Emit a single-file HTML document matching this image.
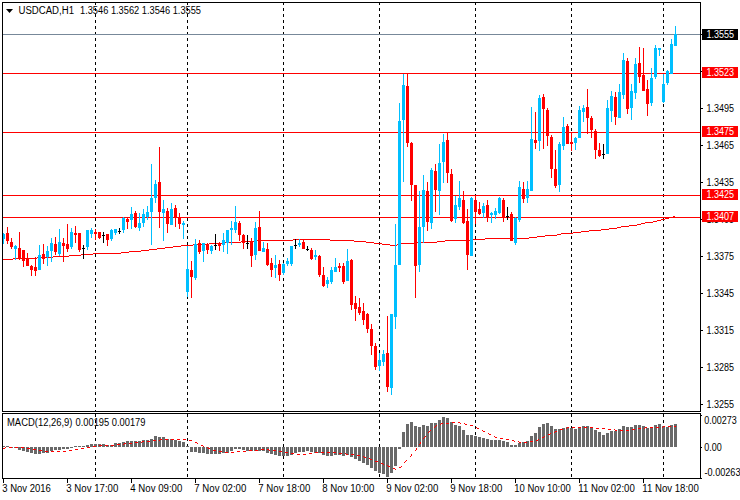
<!DOCTYPE html><html><head><meta charset="utf-8"><title>USDCAD H1</title>
<style>html,body{margin:0;padding:0;background:#fff}body{width:740px;height:500px;overflow:hidden;position:relative;font-family:"Liberation Sans",sans-serif}
svg{position:absolute;left:0;top:0}text{font-family:"Liberation Sans",sans-serif;font-size:10px;letter-spacing:-0.4px;fill:#000}</style></head><body>
<svg width="740" height="500" viewBox="0 0 740 500" shape-rendering="crispEdges">
<rect x="0" y="0" width="740" height="500" fill="#ffffff"/>
<line x1="95.5" y1="2" x2="95.5" y2="411" stroke="#000" stroke-width="1" stroke-dasharray="3,3"/>
<line x1="95.5" y1="413" x2="95.5" y2="479" stroke="#000" stroke-width="1" stroke-dasharray="3,3" stroke-dashoffset="-1"/>
<line x1="187.5" y1="2" x2="187.5" y2="411" stroke="#000" stroke-width="1" stroke-dasharray="3,3"/>
<line x1="187.5" y1="413" x2="187.5" y2="479" stroke="#000" stroke-width="1" stroke-dasharray="3,3" stroke-dashoffset="-1"/>
<line x1="283.5" y1="2" x2="283.5" y2="411" stroke="#000" stroke-width="1" stroke-dasharray="3,3"/>
<line x1="283.5" y1="413" x2="283.5" y2="479" stroke="#000" stroke-width="1" stroke-dasharray="3,3" stroke-dashoffset="-1"/>
<line x1="379.5" y1="2" x2="379.5" y2="411" stroke="#000" stroke-width="1" stroke-dasharray="3,3"/>
<line x1="379.5" y1="413" x2="379.5" y2="479" stroke="#000" stroke-width="1" stroke-dasharray="3,3" stroke-dashoffset="-1"/>
<line x1="475.5" y1="2" x2="475.5" y2="411" stroke="#000" stroke-width="1" stroke-dasharray="3,3"/>
<line x1="475.5" y1="413" x2="475.5" y2="479" stroke="#000" stroke-width="1" stroke-dasharray="3,3" stroke-dashoffset="-1"/>
<line x1="571.5" y1="2" x2="571.5" y2="411" stroke="#000" stroke-width="1" stroke-dasharray="3,3"/>
<line x1="571.5" y1="413" x2="571.5" y2="479" stroke="#000" stroke-width="1" stroke-dasharray="3,3" stroke-dashoffset="-1"/>
<line x1="663.5" y1="2" x2="663.5" y2="411" stroke="#000" stroke-width="1" stroke-dasharray="3,3"/>
<line x1="663.5" y1="413" x2="663.5" y2="479" stroke="#000" stroke-width="1" stroke-dasharray="3,3" stroke-dashoffset="-1"/>
<rect x="3" y="34" width="698" height="1" fill="#778899"/>
<rect x="3" y="73" width="698" height="1" fill="#ff0000"/>
<rect x="3" y="132" width="698" height="1" fill="#ff0000"/>
<rect x="3" y="195" width="698" height="1" fill="#ff0000"/>
<rect x="3" y="217" width="698" height="1" fill="#ff0000"/>
<rect x="3" y="259" width="10" height="1" fill="#ff0000"/>
<rect x="13" y="258" width="24" height="1" fill="#ff0000"/>
<rect x="37" y="257" width="16" height="1" fill="#ff0000"/>
<rect x="53" y="256" width="16" height="1" fill="#ff0000"/>
<rect x="69" y="255" width="12" height="1" fill="#ff0000"/>
<rect x="81" y="254" width="12" height="1" fill="#ff0000"/>
<rect x="93" y="253" width="28" height="1" fill="#ff0000"/>
<rect x="121" y="252" width="8" height="1" fill="#ff0000"/>
<rect x="129" y="251" width="12" height="1" fill="#ff0000"/>
<rect x="141" y="250" width="8" height="1" fill="#ff0000"/>
<rect x="149" y="249" width="8" height="1" fill="#ff0000"/>
<rect x="157" y="248" width="8" height="1" fill="#ff0000"/>
<rect x="165" y="247" width="8" height="1" fill="#ff0000"/>
<rect x="173" y="246" width="8" height="1" fill="#ff0000"/>
<rect x="181" y="245" width="12" height="1" fill="#ff0000"/>
<rect x="193" y="244" width="16" height="1" fill="#ff0000"/>
<rect x="209" y="243" width="16" height="1" fill="#ff0000"/>
<rect x="225" y="242" width="16" height="1" fill="#ff0000"/>
<rect x="241" y="241" width="16" height="1" fill="#ff0000"/>
<rect x="257" y="240" width="36" height="1" fill="#ff0000"/>
<rect x="293" y="239" width="37" height="1" fill="#ff0000"/>
<rect x="330" y="240" width="24" height="1" fill="#ff0000"/>
<rect x="354" y="241" width="12" height="1" fill="#ff0000"/>
<rect x="366" y="242" width="8" height="1" fill="#ff0000"/>
<rect x="374" y="243" width="8" height="1" fill="#ff0000"/>
<rect x="382" y="244" width="8" height="1" fill="#ff0000"/>
<rect x="390" y="245" width="7" height="1" fill="#ff0000"/>
<rect x="397" y="244" width="4" height="1" fill="#ff0000"/>
<rect x="401" y="243" width="16" height="1" fill="#ff0000"/>
<rect x="417" y="242" width="20" height="1" fill="#ff0000"/>
<rect x="437" y="241" width="8" height="1" fill="#ff0000"/>
<rect x="445" y="240" width="28" height="1" fill="#ff0000"/>
<rect x="473" y="239" width="12" height="1" fill="#ff0000"/>
<rect x="485" y="238" width="44" height="1" fill="#ff0000"/>
<rect x="529" y="237" width="8" height="1" fill="#ff0000"/>
<rect x="537" y="236" width="8" height="1" fill="#ff0000"/>
<rect x="545" y="235" width="12" height="1" fill="#ff0000"/>
<rect x="557" y="234" width="4" height="1" fill="#ff0000"/>
<rect x="561" y="233" width="12" height="1" fill="#ff0000"/>
<rect x="573" y="232" width="8" height="1" fill="#ff0000"/>
<rect x="581" y="231" width="8" height="1" fill="#ff0000"/>
<rect x="589" y="230" width="12" height="1" fill="#ff0000"/>
<rect x="601" y="229" width="8" height="1" fill="#ff0000"/>
<rect x="609" y="228" width="8" height="1" fill="#ff0000"/>
<rect x="617" y="227" width="4" height="1" fill="#ff0000"/>
<rect x="621" y="226" width="8" height="1" fill="#ff0000"/>
<rect x="629" y="225" width="8" height="1" fill="#ff0000"/>
<rect x="637" y="224" width="4" height="1" fill="#ff0000"/>
<rect x="641" y="223" width="4" height="1" fill="#ff0000"/>
<rect x="645" y="222" width="8" height="1" fill="#ff0000"/>
<rect x="653" y="221" width="4" height="1" fill="#ff0000"/>
<rect x="657" y="220" width="4" height="1" fill="#ff0000"/>
<rect x="661" y="219" width="4" height="1" fill="#ff0000"/>
<rect x="665" y="218" width="4" height="1" fill="#ff0000"/>
<rect x="669" y="217" width="4" height="1" fill="#ff0000"/>
<rect x="673" y="216" width="2" height="1" fill="#ff0000"/>
<rect x="3" y="233" width="1" height="11" fill="#00bfff"/>
<rect x="2" y="234" width="3" height="5" fill="#00bfff"/>
<rect x="7" y="227" width="1" height="17" fill="#ff0000"/>
<rect x="6" y="233" width="3" height="8" fill="#ff0000"/>
<rect x="11" y="238" width="1" height="11" fill="#ff0000"/>
<rect x="10" y="242" width="3" height="5" fill="#ff0000"/>
<rect x="15" y="245" width="1" height="15" fill="#00bfff"/>
<rect x="14" y="246" width="3" height="3" fill="#00bfff"/>
<rect x="19" y="232" width="1" height="28" fill="#ff0000"/>
<rect x="18" y="248" width="3" height="11" fill="#ff0000"/>
<rect x="23" y="250" width="1" height="17" fill="#ff0000"/>
<rect x="22" y="250" width="3" height="11" fill="#ff0000"/>
<rect x="27" y="253" width="1" height="13" fill="#ff0000"/>
<rect x="26" y="259" width="3" height="7" fill="#ff0000"/>
<rect x="31" y="265" width="1" height="11" fill="#ff0000"/>
<rect x="30" y="266" width="3" height="4" fill="#ff0000"/>
<rect x="35" y="257" width="1" height="19" fill="#ff0000"/>
<rect x="34" y="267" width="3" height="4" fill="#ff0000"/>
<rect x="39" y="245" width="1" height="25" fill="#00bfff"/>
<rect x="38" y="255" width="3" height="15" fill="#00bfff"/>
<rect x="43" y="244" width="1" height="20" fill="#ff0000"/>
<rect x="42" y="254" width="3" height="5" fill="#ff0000"/>
<rect x="47" y="246" width="1" height="20" fill="#00bfff"/>
<rect x="46" y="251" width="3" height="6" fill="#00bfff"/>
<rect x="51" y="238" width="1" height="24" fill="#00bfff"/>
<rect x="50" y="243" width="3" height="8" fill="#00bfff"/>
<rect x="55" y="237" width="1" height="18" fill="#ff0000"/>
<rect x="54" y="244" width="3" height="8" fill="#ff0000"/>
<rect x="59" y="229" width="1" height="27" fill="#00bfff"/>
<rect x="58" y="242" width="3" height="12" fill="#00bfff"/>
<rect x="63" y="238" width="1" height="24" fill="#ff0000"/>
<rect x="62" y="243" width="3" height="3" fill="#ff0000"/>
<rect x="67" y="224" width="1" height="28" fill="#ff0000"/>
<rect x="66" y="244" width="3" height="5" fill="#ff0000"/>
<rect x="71" y="228" width="1" height="21" fill="#00bfff"/>
<rect x="70" y="232" width="3" height="15" fill="#00bfff"/>
<rect x="75" y="226" width="1" height="17" fill="#ff0000"/>
<rect x="74" y="233" width="3" height="2" fill="#ff0000"/>
<rect x="79" y="233" width="1" height="19" fill="#ff0000"/>
<rect x="78" y="233" width="3" height="17" fill="#ff0000"/>
<rect x="83" y="245" width="1" height="14" fill="#000000"/>
<rect x="82" y="248" width="3" height="1" fill="#000000"/>
<rect x="87" y="230" width="1" height="20" fill="#00bfff"/>
<rect x="86" y="230" width="3" height="17" fill="#00bfff"/>
<rect x="91" y="228" width="1" height="10" fill="#00bfff"/>
<rect x="90" y="230" width="3" height="4" fill="#00bfff"/>
<rect x="95" y="229" width="1" height="11" fill="#ff0000"/>
<rect x="94" y="232" width="3" height="2" fill="#ff0000"/>
<rect x="99" y="232" width="1" height="7" fill="#ff0000"/>
<rect x="98" y="232" width="3" height="6" fill="#ff0000"/>
<rect x="103" y="232" width="1" height="11" fill="#000000"/>
<rect x="102" y="235" width="3" height="1" fill="#000000"/>
<rect x="107" y="234" width="1" height="12" fill="#ff0000"/>
<rect x="106" y="234" width="3" height="6" fill="#ff0000"/>
<rect x="111" y="229" width="1" height="12" fill="#00bfff"/>
<rect x="110" y="230" width="3" height="9" fill="#00bfff"/>
<rect x="115" y="229" width="1" height="6" fill="#00bfff"/>
<rect x="114" y="229" width="3" height="4" fill="#00bfff"/>
<rect x="119" y="228" width="1" height="6" fill="#000000"/>
<rect x="118" y="231" width="3" height="1" fill="#000000"/>
<rect x="123" y="217" width="1" height="16" fill="#00bfff"/>
<rect x="122" y="218" width="3" height="12" fill="#00bfff"/>
<rect x="127" y="218" width="1" height="11" fill="#ff0000"/>
<rect x="126" y="219" width="3" height="3" fill="#ff0000"/>
<rect x="131" y="207" width="1" height="22" fill="#00bfff"/>
<rect x="130" y="214" width="3" height="6" fill="#00bfff"/>
<rect x="135" y="211" width="1" height="17" fill="#ff0000"/>
<rect x="134" y="213" width="3" height="14" fill="#ff0000"/>
<rect x="139" y="213" width="1" height="18" fill="#00bfff"/>
<rect x="138" y="223" width="3" height="5" fill="#00bfff"/>
<rect x="143" y="209" width="1" height="18" fill="#00bfff"/>
<rect x="142" y="214" width="3" height="9" fill="#00bfff"/>
<rect x="147" y="206" width="1" height="14" fill="#00bfff"/>
<rect x="146" y="212" width="3" height="5" fill="#00bfff"/>
<rect x="151" y="164" width="1" height="81" fill="#00bfff"/>
<rect x="150" y="198" width="3" height="14" fill="#00bfff"/>
<rect x="155" y="180" width="1" height="23" fill="#00bfff"/>
<rect x="154" y="184" width="3" height="14" fill="#00bfff"/>
<rect x="159" y="147" width="1" height="81" fill="#ff0000"/>
<rect x="158" y="182" width="3" height="30" fill="#ff0000"/>
<rect x="163" y="200" width="1" height="41" fill="#00bfff"/>
<rect x="162" y="209" width="3" height="4" fill="#00bfff"/>
<rect x="167" y="208" width="1" height="25" fill="#ff0000"/>
<rect x="166" y="211" width="3" height="13" fill="#ff0000"/>
<rect x="171" y="203" width="1" height="22" fill="#00bfff"/>
<rect x="170" y="209" width="3" height="16" fill="#00bfff"/>
<rect x="175" y="205" width="1" height="22" fill="#ff0000"/>
<rect x="174" y="208" width="3" height="10" fill="#ff0000"/>
<rect x="179" y="213" width="1" height="16" fill="#ff0000"/>
<rect x="178" y="217" width="3" height="7" fill="#ff0000"/>
<rect x="183" y="221" width="1" height="18" fill="#00bfff"/>
<rect x="182" y="223" width="3" height="2" fill="#00bfff"/>
<rect x="187" y="246" width="1" height="51" fill="#00bfff"/>
<rect x="186" y="269" width="3" height="23" fill="#00bfff"/>
<rect x="191" y="261" width="1" height="37" fill="#ff0000"/>
<rect x="190" y="270" width="3" height="7" fill="#ff0000"/>
<rect x="195" y="239" width="1" height="41" fill="#00bfff"/>
<rect x="194" y="244" width="3" height="34" fill="#00bfff"/>
<rect x="199" y="240" width="1" height="14" fill="#ff0000"/>
<rect x="198" y="243" width="3" height="9" fill="#ff0000"/>
<rect x="203" y="243" width="1" height="19" fill="#00bfff"/>
<rect x="202" y="243" width="3" height="8" fill="#00bfff"/>
<rect x="207" y="243" width="1" height="11" fill="#ff0000"/>
<rect x="206" y="244" width="3" height="6" fill="#ff0000"/>
<rect x="211" y="245" width="1" height="9" fill="#00bfff"/>
<rect x="210" y="246" width="3" height="5" fill="#00bfff"/>
<rect x="215" y="234" width="1" height="16" fill="#000000"/>
<rect x="214" y="245" width="3" height="1" fill="#000000"/>
<rect x="219" y="242" width="1" height="9" fill="#ff0000"/>
<rect x="218" y="243" width="3" height="3" fill="#ff0000"/>
<rect x="223" y="233" width="1" height="19" fill="#00bfff"/>
<rect x="222" y="240" width="3" height="5" fill="#00bfff"/>
<rect x="227" y="230" width="1" height="24" fill="#00bfff"/>
<rect x="226" y="230" width="3" height="13" fill="#00bfff"/>
<rect x="231" y="221" width="1" height="24" fill="#00bfff"/>
<rect x="230" y="228" width="3" height="2" fill="#00bfff"/>
<rect x="235" y="206" width="1" height="27" fill="#00bfff"/>
<rect x="234" y="222" width="3" height="8" fill="#00bfff"/>
<rect x="239" y="221" width="1" height="20" fill="#ff0000"/>
<rect x="238" y="223" width="3" height="12" fill="#ff0000"/>
<rect x="243" y="234" width="1" height="15" fill="#ff0000"/>
<rect x="242" y="235" width="3" height="8" fill="#ff0000"/>
<rect x="247" y="235" width="1" height="14" fill="#000000"/>
<rect x="246" y="243" width="3" height="1" fill="#000000"/>
<rect x="251" y="238" width="1" height="29" fill="#ff0000"/>
<rect x="250" y="241" width="3" height="15" fill="#ff0000"/>
<rect x="255" y="222" width="1" height="38" fill="#00bfff"/>
<rect x="254" y="228" width="3" height="27" fill="#00bfff"/>
<rect x="259" y="211" width="1" height="40" fill="#ff0000"/>
<rect x="258" y="227" width="3" height="24" fill="#ff0000"/>
<rect x="263" y="242" width="1" height="10" fill="#00bfff"/>
<rect x="262" y="248" width="3" height="4" fill="#00bfff"/>
<rect x="267" y="243" width="1" height="23" fill="#ff0000"/>
<rect x="266" y="249" width="3" height="16" fill="#ff0000"/>
<rect x="271" y="258" width="1" height="19" fill="#ff0000"/>
<rect x="270" y="263" width="3" height="7" fill="#ff0000"/>
<rect x="275" y="255" width="1" height="23" fill="#00bfff"/>
<rect x="274" y="265" width="3" height="3" fill="#00bfff"/>
<rect x="279" y="260" width="1" height="21" fill="#ff0000"/>
<rect x="278" y="264" width="3" height="11" fill="#ff0000"/>
<rect x="283" y="263" width="1" height="12" fill="#00bfff"/>
<rect x="282" y="264" width="3" height="9" fill="#00bfff"/>
<rect x="287" y="258" width="1" height="8" fill="#00bfff"/>
<rect x="286" y="261" width="3" height="3" fill="#00bfff"/>
<rect x="291" y="246" width="1" height="20" fill="#00bfff"/>
<rect x="290" y="246" width="3" height="18" fill="#00bfff"/>
<rect x="295" y="239" width="1" height="10" fill="#000000"/>
<rect x="294" y="245" width="3" height="1" fill="#000000"/>
<rect x="299" y="239" width="1" height="8" fill="#00bfff"/>
<rect x="298" y="243" width="3" height="2" fill="#00bfff"/>
<rect x="303" y="240" width="1" height="9" fill="#ff0000"/>
<rect x="302" y="242" width="3" height="7" fill="#ff0000"/>
<rect x="307" y="246" width="1" height="5" fill="#000000"/>
<rect x="306" y="249" width="3" height="1" fill="#000000"/>
<rect x="311" y="248" width="1" height="12" fill="#ff0000"/>
<rect x="310" y="250" width="3" height="9" fill="#ff0000"/>
<rect x="315" y="250" width="1" height="10" fill="#00bfff"/>
<rect x="314" y="255" width="3" height="2" fill="#00bfff"/>
<rect x="319" y="255" width="1" height="22" fill="#ff0000"/>
<rect x="318" y="256" width="3" height="19" fill="#ff0000"/>
<rect x="323" y="267" width="1" height="20" fill="#ff0000"/>
<rect x="322" y="275" width="3" height="11" fill="#ff0000"/>
<rect x="327" y="277" width="1" height="11" fill="#00bfff"/>
<rect x="326" y="280" width="3" height="4" fill="#00bfff"/>
<rect x="331" y="267" width="1" height="17" fill="#00bfff"/>
<rect x="330" y="270" width="3" height="12" fill="#00bfff"/>
<rect x="335" y="258" width="1" height="14" fill="#00bfff"/>
<rect x="334" y="267" width="3" height="5" fill="#00bfff"/>
<rect x="339" y="263" width="1" height="9" fill="#ff0000"/>
<rect x="338" y="266" width="3" height="2" fill="#ff0000"/>
<rect x="343" y="263" width="1" height="21" fill="#ff0000"/>
<rect x="342" y="266" width="3" height="16" fill="#ff0000"/>
<rect x="347" y="249" width="1" height="32" fill="#00bfff"/>
<rect x="346" y="261" width="3" height="20" fill="#00bfff"/>
<rect x="351" y="259" width="1" height="51" fill="#ff0000"/>
<rect x="350" y="260" width="3" height="45" fill="#ff0000"/>
<rect x="355" y="296" width="1" height="25" fill="#ff0000"/>
<rect x="354" y="303" width="3" height="6" fill="#ff0000"/>
<rect x="359" y="298" width="1" height="17" fill="#ff0000"/>
<rect x="358" y="307" width="3" height="6" fill="#ff0000"/>
<rect x="363" y="303" width="1" height="22" fill="#ff0000"/>
<rect x="362" y="311" width="3" height="9" fill="#ff0000"/>
<rect x="367" y="313" width="1" height="20" fill="#ff0000"/>
<rect x="366" y="314" width="3" height="15" fill="#ff0000"/>
<rect x="371" y="324" width="1" height="31" fill="#ff0000"/>
<rect x="370" y="329" width="3" height="17" fill="#ff0000"/>
<rect x="375" y="343" width="1" height="27" fill="#ff0000"/>
<rect x="374" y="346" width="3" height="21" fill="#ff0000"/>
<rect x="379" y="353" width="1" height="18" fill="#00bfff"/>
<rect x="378" y="360" width="3" height="6" fill="#00bfff"/>
<rect x="383" y="350" width="1" height="16" fill="#00bfff"/>
<rect x="382" y="354" width="3" height="8" fill="#00bfff"/>
<rect x="387" y="316" width="1" height="76" fill="#ff0000"/>
<rect x="386" y="353" width="3" height="34" fill="#ff0000"/>
<rect x="391" y="314" width="1" height="81" fill="#00bfff"/>
<rect x="390" y="314" width="3" height="74" fill="#00bfff"/>
<rect x="395" y="224" width="1" height="105" fill="#00bfff"/>
<rect x="394" y="265" width="3" height="52" fill="#00bfff"/>
<rect x="399" y="103" width="1" height="162" fill="#00bfff"/>
<rect x="398" y="121" width="3" height="144" fill="#00bfff"/>
<rect x="403" y="74" width="1" height="108" fill="#00bfff"/>
<rect x="402" y="85" width="3" height="35" fill="#00bfff"/>
<rect x="407" y="73" width="1" height="74" fill="#ff0000"/>
<rect x="406" y="86" width="3" height="57" fill="#ff0000"/>
<rect x="411" y="142" width="1" height="59" fill="#ff0000"/>
<rect x="410" y="143" width="3" height="42" fill="#ff0000"/>
<rect x="415" y="185" width="1" height="113" fill="#ff0000"/>
<rect x="414" y="185" width="3" height="81" fill="#ff0000"/>
<rect x="419" y="191" width="1" height="81" fill="#00bfff"/>
<rect x="418" y="227" width="3" height="38" fill="#00bfff"/>
<rect x="423" y="175" width="1" height="68" fill="#00bfff"/>
<rect x="422" y="190" width="3" height="37" fill="#00bfff"/>
<rect x="427" y="182" width="1" height="49" fill="#ff0000"/>
<rect x="426" y="191" width="3" height="31" fill="#ff0000"/>
<rect x="431" y="168" width="1" height="61" fill="#00bfff"/>
<rect x="430" y="170" width="3" height="53" fill="#00bfff"/>
<rect x="435" y="164" width="1" height="48" fill="#ff0000"/>
<rect x="434" y="171" width="3" height="19" fill="#ff0000"/>
<rect x="439" y="144" width="1" height="71" fill="#00bfff"/>
<rect x="438" y="163" width="3" height="28" fill="#00bfff"/>
<rect x="443" y="134" width="1" height="49" fill="#00bfff"/>
<rect x="442" y="142" width="3" height="20" fill="#00bfff"/>
<rect x="447" y="132" width="1" height="51" fill="#ff0000"/>
<rect x="446" y="140" width="3" height="33" fill="#ff0000"/>
<rect x="451" y="169" width="1" height="53" fill="#ff0000"/>
<rect x="450" y="174" width="3" height="47" fill="#ff0000"/>
<rect x="455" y="196" width="1" height="27" fill="#00bfff"/>
<rect x="454" y="205" width="3" height="14" fill="#00bfff"/>
<rect x="459" y="181" width="1" height="29" fill="#00bfff"/>
<rect x="458" y="198" width="3" height="9" fill="#00bfff"/>
<rect x="463" y="191" width="1" height="33" fill="#ff0000"/>
<rect x="462" y="200" width="3" height="23" fill="#ff0000"/>
<rect x="467" y="209" width="1" height="61" fill="#ff0000"/>
<rect x="466" y="221" width="3" height="34" fill="#ff0000"/>
<rect x="471" y="197" width="1" height="59" fill="#00bfff"/>
<rect x="470" y="198" width="3" height="58" fill="#00bfff"/>
<rect x="475" y="196" width="1" height="28" fill="#ff0000"/>
<rect x="474" y="200" width="3" height="12" fill="#ff0000"/>
<rect x="479" y="202" width="1" height="13" fill="#ff0000"/>
<rect x="478" y="209" width="3" height="5" fill="#ff0000"/>
<rect x="483" y="203" width="1" height="15" fill="#00bfff"/>
<rect x="482" y="206" width="3" height="7" fill="#00bfff"/>
<rect x="487" y="200" width="1" height="22" fill="#ff0000"/>
<rect x="486" y="205" width="3" height="13" fill="#ff0000"/>
<rect x="491" y="212" width="1" height="11" fill="#00bfff"/>
<rect x="490" y="213" width="3" height="2" fill="#00bfff"/>
<rect x="495" y="208" width="1" height="11" fill="#00bfff"/>
<rect x="494" y="211" width="3" height="4" fill="#00bfff"/>
<rect x="499" y="197" width="1" height="17" fill="#00bfff"/>
<rect x="498" y="198" width="3" height="15" fill="#00bfff"/>
<rect x="503" y="198" width="1" height="24" fill="#ff0000"/>
<rect x="502" y="200" width="3" height="18" fill="#ff0000"/>
<rect x="507" y="207" width="1" height="13" fill="#000000"/>
<rect x="506" y="216" width="3" height="1" fill="#000000"/>
<rect x="511" y="212" width="1" height="29" fill="#ff0000"/>
<rect x="510" y="214" width="3" height="27" fill="#ff0000"/>
<rect x="515" y="217" width="1" height="28" fill="#00bfff"/>
<rect x="514" y="218" width="3" height="25" fill="#00bfff"/>
<rect x="519" y="181" width="1" height="41" fill="#00bfff"/>
<rect x="518" y="187" width="3" height="33" fill="#00bfff"/>
<rect x="523" y="182" width="1" height="21" fill="#ff0000"/>
<rect x="522" y="189" width="3" height="10" fill="#ff0000"/>
<rect x="527" y="181" width="1" height="22" fill="#00bfff"/>
<rect x="526" y="189" width="3" height="9" fill="#00bfff"/>
<rect x="531" y="107" width="1" height="84" fill="#00bfff"/>
<rect x="530" y="139" width="3" height="52" fill="#00bfff"/>
<rect x="535" y="112" width="1" height="37" fill="#ff0000"/>
<rect x="534" y="140" width="3" height="3" fill="#ff0000"/>
<rect x="539" y="95" width="1" height="56" fill="#00bfff"/>
<rect x="538" y="98" width="3" height="43" fill="#00bfff"/>
<rect x="543" y="94" width="1" height="55" fill="#ff0000"/>
<rect x="542" y="97" width="3" height="12" fill="#ff0000"/>
<rect x="547" y="108" width="1" height="38" fill="#ff0000"/>
<rect x="546" y="110" width="3" height="26" fill="#ff0000"/>
<rect x="551" y="135" width="1" height="43" fill="#ff0000"/>
<rect x="550" y="137" width="3" height="32" fill="#ff0000"/>
<rect x="555" y="150" width="1" height="38" fill="#ff0000"/>
<rect x="554" y="169" width="3" height="17" fill="#ff0000"/>
<rect x="559" y="142" width="1" height="50" fill="#00bfff"/>
<rect x="558" y="144" width="3" height="41" fill="#00bfff"/>
<rect x="563" y="117" width="1" height="33" fill="#00bfff"/>
<rect x="562" y="127" width="3" height="19" fill="#00bfff"/>
<rect x="567" y="124" width="1" height="20" fill="#ff0000"/>
<rect x="566" y="126" width="3" height="18" fill="#ff0000"/>
<rect x="571" y="133" width="1" height="18" fill="#ff0000"/>
<rect x="570" y="142" width="3" height="2" fill="#ff0000"/>
<rect x="575" y="137" width="1" height="13" fill="#00bfff"/>
<rect x="574" y="138" width="3" height="5" fill="#00bfff"/>
<rect x="579" y="106" width="1" height="32" fill="#00bfff"/>
<rect x="578" y="110" width="3" height="28" fill="#00bfff"/>
<rect x="583" y="105" width="1" height="17" fill="#00bfff"/>
<rect x="582" y="108" width="3" height="4" fill="#00bfff"/>
<rect x="587" y="89" width="1" height="45" fill="#ff0000"/>
<rect x="586" y="107" width="3" height="11" fill="#ff0000"/>
<rect x="591" y="116" width="1" height="22" fill="#ff0000"/>
<rect x="590" y="118" width="3" height="12" fill="#ff0000"/>
<rect x="595" y="129" width="1" height="30" fill="#ff0000"/>
<rect x="594" y="131" width="3" height="19" fill="#ff0000"/>
<rect x="599" y="143" width="1" height="14" fill="#ff0000"/>
<rect x="598" y="150" width="3" height="6" fill="#ff0000"/>
<rect x="603" y="144" width="1" height="15" fill="#000000"/>
<rect x="602" y="154" width="3" height="1" fill="#000000"/>
<rect x="607" y="100" width="1" height="54" fill="#00bfff"/>
<rect x="606" y="108" width="3" height="46" fill="#00bfff"/>
<rect x="611" y="91" width="1" height="31" fill="#00bfff"/>
<rect x="610" y="96" width="3" height="15" fill="#00bfff"/>
<rect x="615" y="92" width="1" height="33" fill="#ff0000"/>
<rect x="614" y="97" width="3" height="20" fill="#ff0000"/>
<rect x="619" y="84" width="1" height="34" fill="#00bfff"/>
<rect x="618" y="92" width="3" height="26" fill="#00bfff"/>
<rect x="623" y="53" width="1" height="46" fill="#00bfff"/>
<rect x="622" y="60" width="3" height="35" fill="#00bfff"/>
<rect x="627" y="58" width="1" height="56" fill="#ff0000"/>
<rect x="626" y="61" width="3" height="48" fill="#ff0000"/>
<rect x="631" y="84" width="1" height="36" fill="#00bfff"/>
<rect x="630" y="91" width="3" height="17" fill="#00bfff"/>
<rect x="635" y="58" width="1" height="41" fill="#00bfff"/>
<rect x="634" y="64" width="3" height="29" fill="#00bfff"/>
<rect x="639" y="47" width="1" height="36" fill="#ff0000"/>
<rect x="638" y="63" width="3" height="14" fill="#ff0000"/>
<rect x="643" y="48" width="1" height="43" fill="#ff0000"/>
<rect x="642" y="75" width="3" height="16" fill="#ff0000"/>
<rect x="647" y="80" width="1" height="36" fill="#ff0000"/>
<rect x="646" y="89" width="3" height="15" fill="#ff0000"/>
<rect x="651" y="68" width="1" height="38" fill="#00bfff"/>
<rect x="650" y="78" width="3" height="25" fill="#00bfff"/>
<rect x="655" y="45" width="1" height="34" fill="#00bfff"/>
<rect x="654" y="48" width="3" height="29" fill="#00bfff"/>
<rect x="659" y="48" width="1" height="8" fill="#00bfff"/>
<rect x="658" y="48" width="3" height="2" fill="#00bfff"/>
<rect x="663" y="74" width="1" height="29" fill="#00bfff"/>
<rect x="662" y="84" width="3" height="18" fill="#00bfff"/>
<rect x="667" y="70" width="1" height="15" fill="#00bfff"/>
<rect x="666" y="71" width="3" height="12" fill="#00bfff"/>
<rect x="671" y="39" width="1" height="35" fill="#00bfff"/>
<rect x="670" y="44" width="3" height="30" fill="#00bfff"/>
<rect x="675" y="26" width="1" height="20" fill="#00bfff"/>
<rect x="674" y="34" width="3" height="12" fill="#00bfff"/>
<rect x="2" y="446" width="3" height="1" fill="#696969"/>
<rect x="6" y="446" width="3" height="1" fill="#696969"/>
<rect x="10" y="447" width="3" height="1" fill="#696969"/>
<rect x="14" y="447" width="3" height="1" fill="#696969"/>
<rect x="18" y="447" width="3" height="3" fill="#696969"/>
<rect x="22" y="447" width="3" height="4" fill="#696969"/>
<rect x="26" y="447" width="3" height="5" fill="#696969"/>
<rect x="30" y="447" width="3" height="6" fill="#696969"/>
<rect x="34" y="447" width="3" height="7" fill="#696969"/>
<rect x="38" y="447" width="3" height="7" fill="#696969"/>
<rect x="42" y="447" width="3" height="6" fill="#696969"/>
<rect x="46" y="447" width="3" height="6" fill="#696969"/>
<rect x="50" y="447" width="3" height="4" fill="#696969"/>
<rect x="54" y="447" width="3" height="3" fill="#696969"/>
<rect x="58" y="447" width="3" height="3" fill="#696969"/>
<rect x="62" y="447" width="3" height="2" fill="#696969"/>
<rect x="66" y="447" width="3" height="2" fill="#696969"/>
<rect x="70" y="447" width="3" height="1" fill="#696969"/>
<rect x="74" y="446" width="3" height="1" fill="#696969"/>
<rect x="78" y="446" width="3" height="1" fill="#696969"/>
<rect x="82" y="446" width="3" height="1" fill="#696969"/>
<rect x="86" y="445" width="3" height="2" fill="#696969"/>
<rect x="90" y="444" width="3" height="3" fill="#696969"/>
<rect x="94" y="444" width="3" height="3" fill="#696969"/>
<rect x="98" y="444" width="3" height="3" fill="#696969"/>
<rect x="102" y="444" width="3" height="3" fill="#696969"/>
<rect x="106" y="445" width="3" height="2" fill="#696969"/>
<rect x="110" y="445" width="3" height="2" fill="#696969"/>
<rect x="114" y="443" width="3" height="4" fill="#696969"/>
<rect x="118" y="443" width="3" height="4" fill="#696969"/>
<rect x="122" y="442" width="3" height="5" fill="#696969"/>
<rect x="126" y="441" width="3" height="6" fill="#696969"/>
<rect x="130" y="441" width="3" height="6" fill="#696969"/>
<rect x="134" y="441" width="3" height="6" fill="#696969"/>
<rect x="138" y="441" width="3" height="6" fill="#696969"/>
<rect x="142" y="440" width="3" height="7" fill="#696969"/>
<rect x="146" y="440" width="3" height="7" fill="#696969"/>
<rect x="150" y="439" width="3" height="8" fill="#696969"/>
<rect x="154" y="436" width="3" height="11" fill="#696969"/>
<rect x="158" y="437" width="3" height="10" fill="#696969"/>
<rect x="162" y="437" width="3" height="10" fill="#696969"/>
<rect x="166" y="439" width="3" height="8" fill="#696969"/>
<rect x="170" y="439" width="3" height="8" fill="#696969"/>
<rect x="174" y="440" width="3" height="7" fill="#696969"/>
<rect x="178" y="441" width="3" height="6" fill="#696969"/>
<rect x="182" y="442" width="3" height="5" fill="#696969"/>
<rect x="186" y="446" width="3" height="1" fill="#696969"/>
<rect x="190" y="447" width="3" height="5" fill="#696969"/>
<rect x="194" y="447" width="3" height="5" fill="#696969"/>
<rect x="198" y="447" width="3" height="6" fill="#696969"/>
<rect x="202" y="447" width="3" height="6" fill="#696969"/>
<rect x="206" y="447" width="3" height="7" fill="#696969"/>
<rect x="210" y="447" width="3" height="7" fill="#696969"/>
<rect x="214" y="447" width="3" height="7" fill="#696969"/>
<rect x="218" y="447" width="3" height="7" fill="#696969"/>
<rect x="222" y="447" width="3" height="6" fill="#696969"/>
<rect x="226" y="447" width="3" height="6" fill="#696969"/>
<rect x="230" y="447" width="3" height="4" fill="#696969"/>
<rect x="234" y="447" width="3" height="2" fill="#696969"/>
<rect x="238" y="447" width="3" height="2" fill="#696969"/>
<rect x="242" y="447" width="3" height="3" fill="#696969"/>
<rect x="246" y="447" width="3" height="4" fill="#696969"/>
<rect x="250" y="447" width="3" height="4" fill="#696969"/>
<rect x="254" y="447" width="3" height="4" fill="#696969"/>
<rect x="258" y="447" width="3" height="4" fill="#696969"/>
<rect x="262" y="447" width="3" height="4" fill="#696969"/>
<rect x="266" y="447" width="3" height="6" fill="#696969"/>
<rect x="270" y="447" width="3" height="7" fill="#696969"/>
<rect x="274" y="447" width="3" height="8" fill="#696969"/>
<rect x="278" y="447" width="3" height="9" fill="#696969"/>
<rect x="282" y="447" width="3" height="9" fill="#696969"/>
<rect x="286" y="447" width="3" height="9" fill="#696969"/>
<rect x="290" y="447" width="3" height="8" fill="#696969"/>
<rect x="294" y="447" width="3" height="6" fill="#696969"/>
<rect x="298" y="447" width="3" height="5" fill="#696969"/>
<rect x="302" y="447" width="3" height="5" fill="#696969"/>
<rect x="306" y="447" width="3" height="4" fill="#696969"/>
<rect x="310" y="447" width="3" height="5" fill="#696969"/>
<rect x="314" y="447" width="3" height="6" fill="#696969"/>
<rect x="318" y="447" width="3" height="6" fill="#696969"/>
<rect x="322" y="447" width="3" height="8" fill="#696969"/>
<rect x="326" y="447" width="3" height="9" fill="#696969"/>
<rect x="330" y="447" width="3" height="9" fill="#696969"/>
<rect x="334" y="447" width="3" height="8" fill="#696969"/>
<rect x="338" y="447" width="3" height="8" fill="#696969"/>
<rect x="342" y="447" width="3" height="9" fill="#696969"/>
<rect x="346" y="447" width="3" height="8" fill="#696969"/>
<rect x="350" y="447" width="3" height="10" fill="#696969"/>
<rect x="354" y="447" width="3" height="12" fill="#696969"/>
<rect x="358" y="447" width="3" height="14" fill="#696969"/>
<rect x="362" y="447" width="3" height="16" fill="#696969"/>
<rect x="366" y="447" width="3" height="18" fill="#696969"/>
<rect x="370" y="447" width="3" height="21" fill="#696969"/>
<rect x="374" y="447" width="3" height="24" fill="#696969"/>
<rect x="378" y="447" width="3" height="26" fill="#696969"/>
<rect x="382" y="447" width="3" height="27" fill="#696969"/>
<rect x="386" y="447" width="3" height="30" fill="#696969"/>
<rect x="390" y="447" width="3" height="26" fill="#696969"/>
<rect x="394" y="447" width="3" height="19" fill="#696969"/>
<rect x="398" y="447" width="3" height="2" fill="#696969"/>
<rect x="402" y="432" width="3" height="15" fill="#696969"/>
<rect x="406" y="424" width="3" height="23" fill="#696969"/>
<rect x="410" y="422" width="3" height="25" fill="#696969"/>
<rect x="414" y="426" width="3" height="21" fill="#696969"/>
<rect x="418" y="427" width="3" height="20" fill="#696969"/>
<rect x="422" y="425" width="3" height="22" fill="#696969"/>
<rect x="426" y="426" width="3" height="21" fill="#696969"/>
<rect x="430" y="423" width="3" height="24" fill="#696969"/>
<rect x="434" y="423" width="3" height="24" fill="#696969"/>
<rect x="438" y="420" width="3" height="27" fill="#696969"/>
<rect x="442" y="417" width="3" height="30" fill="#696969"/>
<rect x="446" y="418" width="3" height="29" fill="#696969"/>
<rect x="450" y="422" width="3" height="25" fill="#696969"/>
<rect x="454" y="425" width="3" height="22" fill="#696969"/>
<rect x="458" y="426" width="3" height="21" fill="#696969"/>
<rect x="462" y="430" width="3" height="17" fill="#696969"/>
<rect x="466" y="435" width="3" height="12" fill="#696969"/>
<rect x="470" y="435" width="3" height="12" fill="#696969"/>
<rect x="474" y="436" width="3" height="11" fill="#696969"/>
<rect x="478" y="437" width="3" height="10" fill="#696969"/>
<rect x="482" y="438" width="3" height="9" fill="#696969"/>
<rect x="486" y="439" width="3" height="8" fill="#696969"/>
<rect x="490" y="440" width="3" height="7" fill="#696969"/>
<rect x="494" y="440" width="3" height="7" fill="#696969"/>
<rect x="498" y="440" width="3" height="7" fill="#696969"/>
<rect x="502" y="441" width="3" height="6" fill="#696969"/>
<rect x="506" y="442" width="3" height="5" fill="#696969"/>
<rect x="510" y="445" width="3" height="2" fill="#696969"/>
<rect x="514" y="445" width="3" height="2" fill="#696969"/>
<rect x="518" y="443" width="3" height="4" fill="#696969"/>
<rect x="522" y="442" width="3" height="5" fill="#696969"/>
<rect x="526" y="441" width="3" height="6" fill="#696969"/>
<rect x="530" y="436" width="3" height="11" fill="#696969"/>
<rect x="534" y="433" width="3" height="14" fill="#696969"/>
<rect x="538" y="427" width="3" height="20" fill="#696969"/>
<rect x="542" y="424" width="3" height="23" fill="#696969"/>
<rect x="546" y="423" width="3" height="24" fill="#696969"/>
<rect x="550" y="426" width="3" height="21" fill="#696969"/>
<rect x="554" y="429" width="3" height="18" fill="#696969"/>
<rect x="558" y="429" width="3" height="18" fill="#696969"/>
<rect x="562" y="428" width="3" height="19" fill="#696969"/>
<rect x="566" y="427" width="3" height="20" fill="#696969"/>
<rect x="570" y="428" width="3" height="19" fill="#696969"/>
<rect x="574" y="429" width="3" height="18" fill="#696969"/>
<rect x="578" y="427" width="3" height="20" fill="#696969"/>
<rect x="582" y="426" width="3" height="21" fill="#696969"/>
<rect x="586" y="426" width="3" height="21" fill="#696969"/>
<rect x="590" y="427" width="3" height="20" fill="#696969"/>
<rect x="594" y="430" width="3" height="17" fill="#696969"/>
<rect x="598" y="432" width="3" height="15" fill="#696969"/>
<rect x="602" y="435" width="3" height="12" fill="#696969"/>
<rect x="606" y="433" width="3" height="14" fill="#696969"/>
<rect x="610" y="431" width="3" height="16" fill="#696969"/>
<rect x="614" y="431" width="3" height="16" fill="#696969"/>
<rect x="618" y="429" width="3" height="18" fill="#696969"/>
<rect x="622" y="426" width="3" height="21" fill="#696969"/>
<rect x="626" y="427" width="3" height="20" fill="#696969"/>
<rect x="630" y="427" width="3" height="20" fill="#696969"/>
<rect x="634" y="425" width="3" height="22" fill="#696969"/>
<rect x="638" y="425" width="3" height="22" fill="#696969"/>
<rect x="642" y="426" width="3" height="21" fill="#696969"/>
<rect x="646" y="428" width="3" height="19" fill="#696969"/>
<rect x="650" y="428" width="3" height="19" fill="#696969"/>
<rect x="654" y="425" width="3" height="22" fill="#696969"/>
<rect x="658" y="424" width="3" height="23" fill="#696969"/>
<rect x="662" y="426" width="3" height="21" fill="#696969"/>
<rect x="666" y="427" width="3" height="20" fill="#696969"/>
<rect x="670" y="425" width="3" height="22" fill="#696969"/>
<rect x="674" y="424" width="3" height="23" fill="#696969"/>
<rect x="3" y="448" width="1" height="1" fill="#ff0000"/>
<rect x="4" y="448" width="1" height="1" fill="#ff0000"/>
<rect x="5" y="447" width="1" height="1" fill="#ff0000"/>
<rect x="9" y="447" width="1" height="1" fill="#ff0000"/>
<rect x="10" y="447" width="1" height="1" fill="#ff0000"/>
<rect x="11" y="447" width="1" height="1" fill="#ff0000"/>
<rect x="15" y="447" width="1" height="1" fill="#ff0000"/>
<rect x="16" y="447" width="1" height="1" fill="#ff0000"/>
<rect x="17" y="447" width="1" height="1" fill="#ff0000"/>
<rect x="21" y="447" width="1" height="1" fill="#ff0000"/>
<rect x="22" y="447" width="1" height="1" fill="#ff0000"/>
<rect x="23" y="447" width="1" height="1" fill="#ff0000"/>
<rect x="27" y="448" width="1" height="1" fill="#ff0000"/>
<rect x="28" y="448" width="1" height="1" fill="#ff0000"/>
<rect x="29" y="448" width="1" height="1" fill="#ff0000"/>
<rect x="33" y="449" width="1" height="1" fill="#ff0000"/>
<rect x="34" y="449" width="1" height="1" fill="#ff0000"/>
<rect x="35" y="449" width="1" height="1" fill="#ff0000"/>
<rect x="39" y="450" width="1" height="1" fill="#ff0000"/>
<rect x="40" y="450" width="1" height="1" fill="#ff0000"/>
<rect x="41" y="450" width="1" height="1" fill="#ff0000"/>
<rect x="45" y="451" width="1" height="1" fill="#ff0000"/>
<rect x="46" y="451" width="1" height="1" fill="#ff0000"/>
<rect x="47" y="451" width="1" height="1" fill="#ff0000"/>
<rect x="51" y="451" width="1" height="1" fill="#ff0000"/>
<rect x="52" y="451" width="1" height="1" fill="#ff0000"/>
<rect x="53" y="451" width="1" height="1" fill="#ff0000"/>
<rect x="57" y="451" width="1" height="1" fill="#ff0000"/>
<rect x="58" y="451" width="1" height="1" fill="#ff0000"/>
<rect x="59" y="451" width="1" height="1" fill="#ff0000"/>
<rect x="63" y="451" width="1" height="1" fill="#ff0000"/>
<rect x="64" y="451" width="1" height="1" fill="#ff0000"/>
<rect x="65" y="451" width="1" height="1" fill="#ff0000"/>
<rect x="69" y="450" width="1" height="1" fill="#ff0000"/>
<rect x="70" y="450" width="1" height="1" fill="#ff0000"/>
<rect x="71" y="450" width="1" height="1" fill="#ff0000"/>
<rect x="75" y="449" width="1" height="1" fill="#ff0000"/>
<rect x="76" y="449" width="1" height="1" fill="#ff0000"/>
<rect x="77" y="449" width="1" height="1" fill="#ff0000"/>
<rect x="81" y="448" width="1" height="1" fill="#ff0000"/>
<rect x="82" y="448" width="1" height="1" fill="#ff0000"/>
<rect x="83" y="448" width="1" height="1" fill="#ff0000"/>
<rect x="87" y="447" width="1" height="1" fill="#ff0000"/>
<rect x="88" y="447" width="1" height="1" fill="#ff0000"/>
<rect x="89" y="447" width="1" height="1" fill="#ff0000"/>
<rect x="93" y="446" width="1" height="1" fill="#ff0000"/>
<rect x="94" y="446" width="1" height="1" fill="#ff0000"/>
<rect x="95" y="446" width="1" height="1" fill="#ff0000"/>
<rect x="99" y="445" width="1" height="1" fill="#ff0000"/>
<rect x="100" y="445" width="1" height="1" fill="#ff0000"/>
<rect x="101" y="445" width="1" height="1" fill="#ff0000"/>
<rect x="105" y="445" width="1" height="1" fill="#ff0000"/>
<rect x="106" y="445" width="1" height="1" fill="#ff0000"/>
<rect x="107" y="445" width="1" height="1" fill="#ff0000"/>
<rect x="111" y="445" width="1" height="1" fill="#ff0000"/>
<rect x="112" y="445" width="1" height="1" fill="#ff0000"/>
<rect x="113" y="445" width="1" height="1" fill="#ff0000"/>
<rect x="117" y="444" width="1" height="1" fill="#ff0000"/>
<rect x="118" y="444" width="1" height="1" fill="#ff0000"/>
<rect x="119" y="444" width="1" height="1" fill="#ff0000"/>
<rect x="123" y="444" width="1" height="1" fill="#ff0000"/>
<rect x="124" y="443" width="1" height="1" fill="#ff0000"/>
<rect x="125" y="443" width="1" height="1" fill="#ff0000"/>
<rect x="129" y="443" width="1" height="1" fill="#ff0000"/>
<rect x="130" y="443" width="1" height="1" fill="#ff0000"/>
<rect x="131" y="443" width="1" height="1" fill="#ff0000"/>
<rect x="135" y="442" width="1" height="1" fill="#ff0000"/>
<rect x="136" y="442" width="1" height="1" fill="#ff0000"/>
<rect x="137" y="442" width="1" height="1" fill="#ff0000"/>
<rect x="141" y="442" width="1" height="1" fill="#ff0000"/>
<rect x="142" y="441" width="1" height="1" fill="#ff0000"/>
<rect x="143" y="441" width="1" height="1" fill="#ff0000"/>
<rect x="147" y="441" width="1" height="1" fill="#ff0000"/>
<rect x="148" y="441" width="1" height="1" fill="#ff0000"/>
<rect x="149" y="441" width="1" height="1" fill="#ff0000"/>
<rect x="153" y="440" width="1" height="1" fill="#ff0000"/>
<rect x="154" y="440" width="1" height="1" fill="#ff0000"/>
<rect x="155" y="440" width="1" height="1" fill="#ff0000"/>
<rect x="159" y="440" width="1" height="1" fill="#ff0000"/>
<rect x="160" y="439" width="1" height="1" fill="#ff0000"/>
<rect x="161" y="439" width="1" height="1" fill="#ff0000"/>
<rect x="165" y="439" width="1" height="1" fill="#ff0000"/>
<rect x="166" y="439" width="1" height="1" fill="#ff0000"/>
<rect x="167" y="439" width="1" height="1" fill="#ff0000"/>
<rect x="171" y="439" width="1" height="1" fill="#ff0000"/>
<rect x="172" y="439" width="1" height="1" fill="#ff0000"/>
<rect x="173" y="439" width="1" height="1" fill="#ff0000"/>
<rect x="177" y="439" width="1" height="1" fill="#ff0000"/>
<rect x="178" y="439" width="1" height="1" fill="#ff0000"/>
<rect x="179" y="439" width="1" height="1" fill="#ff0000"/>
<rect x="183" y="439" width="1" height="1" fill="#ff0000"/>
<rect x="184" y="439" width="1" height="1" fill="#ff0000"/>
<rect x="185" y="439" width="1" height="1" fill="#ff0000"/>
<rect x="189" y="440" width="1" height="1" fill="#ff0000"/>
<rect x="190" y="440" width="1" height="1" fill="#ff0000"/>
<rect x="191" y="440" width="1" height="1" fill="#ff0000"/>
<rect x="195" y="442" width="1" height="1" fill="#ff0000"/>
<rect x="196" y="442" width="1" height="1" fill="#ff0000"/>
<rect x="197" y="443" width="1" height="1" fill="#ff0000"/>
<rect x="201" y="445" width="1" height="1" fill="#ff0000"/>
<rect x="202" y="445" width="1" height="1" fill="#ff0000"/>
<rect x="203" y="446" width="1" height="1" fill="#ff0000"/>
<rect x="207" y="447" width="1" height="1" fill="#ff0000"/>
<rect x="208" y="448" width="1" height="1" fill="#ff0000"/>
<rect x="209" y="448" width="1" height="1" fill="#ff0000"/>
<rect x="213" y="450" width="1" height="1" fill="#ff0000"/>
<rect x="214" y="450" width="1" height="1" fill="#ff0000"/>
<rect x="215" y="450" width="1" height="1" fill="#ff0000"/>
<rect x="219" y="451" width="1" height="1" fill="#ff0000"/>
<rect x="220" y="451" width="1" height="1" fill="#ff0000"/>
<rect x="221" y="451" width="1" height="1" fill="#ff0000"/>
<rect x="225" y="452" width="1" height="1" fill="#ff0000"/>
<rect x="226" y="452" width="1" height="1" fill="#ff0000"/>
<rect x="227" y="452" width="1" height="1" fill="#ff0000"/>
<rect x="231" y="452" width="1" height="1" fill="#ff0000"/>
<rect x="232" y="452" width="1" height="1" fill="#ff0000"/>
<rect x="233" y="452" width="1" height="1" fill="#ff0000"/>
<rect x="237" y="451" width="1" height="1" fill="#ff0000"/>
<rect x="238" y="451" width="1" height="1" fill="#ff0000"/>
<rect x="239" y="451" width="1" height="1" fill="#ff0000"/>
<rect x="243" y="451" width="1" height="1" fill="#ff0000"/>
<rect x="244" y="451" width="1" height="1" fill="#ff0000"/>
<rect x="245" y="451" width="1" height="1" fill="#ff0000"/>
<rect x="249" y="450" width="1" height="1" fill="#ff0000"/>
<rect x="250" y="450" width="1" height="1" fill="#ff0000"/>
<rect x="251" y="450" width="1" height="1" fill="#ff0000"/>
<rect x="255" y="450" width="1" height="1" fill="#ff0000"/>
<rect x="256" y="450" width="1" height="1" fill="#ff0000"/>
<rect x="257" y="450" width="1" height="1" fill="#ff0000"/>
<rect x="261" y="449" width="1" height="1" fill="#ff0000"/>
<rect x="262" y="449" width="1" height="1" fill="#ff0000"/>
<rect x="263" y="449" width="1" height="1" fill="#ff0000"/>
<rect x="267" y="449" width="1" height="1" fill="#ff0000"/>
<rect x="268" y="449" width="1" height="1" fill="#ff0000"/>
<rect x="269" y="450" width="1" height="1" fill="#ff0000"/>
<rect x="273" y="450" width="1" height="1" fill="#ff0000"/>
<rect x="274" y="450" width="1" height="1" fill="#ff0000"/>
<rect x="275" y="450" width="1" height="1" fill="#ff0000"/>
<rect x="279" y="451" width="1" height="1" fill="#ff0000"/>
<rect x="280" y="451" width="1" height="1" fill="#ff0000"/>
<rect x="281" y="451" width="1" height="1" fill="#ff0000"/>
<rect x="285" y="452" width="1" height="1" fill="#ff0000"/>
<rect x="286" y="452" width="1" height="1" fill="#ff0000"/>
<rect x="287" y="452" width="1" height="1" fill="#ff0000"/>
<rect x="291" y="453" width="1" height="1" fill="#ff0000"/>
<rect x="292" y="453" width="1" height="1" fill="#ff0000"/>
<rect x="293" y="453" width="1" height="1" fill="#ff0000"/>
<rect x="297" y="454" width="1" height="1" fill="#ff0000"/>
<rect x="298" y="454" width="1" height="1" fill="#ff0000"/>
<rect x="299" y="454" width="1" height="1" fill="#ff0000"/>
<rect x="303" y="454" width="1" height="1" fill="#ff0000"/>
<rect x="304" y="454" width="1" height="1" fill="#ff0000"/>
<rect x="305" y="454" width="1" height="1" fill="#ff0000"/>
<rect x="309" y="453" width="1" height="1" fill="#ff0000"/>
<rect x="310" y="453" width="1" height="1" fill="#ff0000"/>
<rect x="311" y="453" width="1" height="1" fill="#ff0000"/>
<rect x="315" y="452" width="1" height="1" fill="#ff0000"/>
<rect x="316" y="452" width="1" height="1" fill="#ff0000"/>
<rect x="317" y="452" width="1" height="1" fill="#ff0000"/>
<rect x="321" y="452" width="1" height="1" fill="#ff0000"/>
<rect x="322" y="452" width="1" height="1" fill="#ff0000"/>
<rect x="323" y="452" width="1" height="1" fill="#ff0000"/>
<rect x="327" y="452" width="1" height="1" fill="#ff0000"/>
<rect x="328" y="452" width="1" height="1" fill="#ff0000"/>
<rect x="329" y="452" width="1" height="1" fill="#ff0000"/>
<rect x="333" y="452" width="1" height="1" fill="#ff0000"/>
<rect x="334" y="452" width="1" height="1" fill="#ff0000"/>
<rect x="335" y="452" width="1" height="1" fill="#ff0000"/>
<rect x="339" y="453" width="1" height="1" fill="#ff0000"/>
<rect x="340" y="453" width="1" height="1" fill="#ff0000"/>
<rect x="341" y="453" width="1" height="1" fill="#ff0000"/>
<rect x="345" y="453" width="1" height="1" fill="#ff0000"/>
<rect x="346" y="454" width="1" height="1" fill="#ff0000"/>
<rect x="347" y="454" width="1" height="1" fill="#ff0000"/>
<rect x="351" y="454" width="1" height="1" fill="#ff0000"/>
<rect x="352" y="454" width="1" height="1" fill="#ff0000"/>
<rect x="353" y="454" width="1" height="1" fill="#ff0000"/>
<rect x="357" y="455" width="1" height="1" fill="#ff0000"/>
<rect x="358" y="455" width="1" height="1" fill="#ff0000"/>
<rect x="359" y="455" width="1" height="1" fill="#ff0000"/>
<rect x="363" y="456" width="1" height="1" fill="#ff0000"/>
<rect x="364" y="457" width="1" height="1" fill="#ff0000"/>
<rect x="365" y="457" width="1" height="1" fill="#ff0000"/>
<rect x="369" y="458" width="1" height="1" fill="#ff0000"/>
<rect x="370" y="459" width="1" height="1" fill="#ff0000"/>
<rect x="371" y="459" width="1" height="1" fill="#ff0000"/>
<rect x="375" y="461" width="1" height="1" fill="#ff0000"/>
<rect x="376" y="461" width="1" height="1" fill="#ff0000"/>
<rect x="377" y="461" width="1" height="1" fill="#ff0000"/>
<rect x="381" y="463" width="1" height="1" fill="#ff0000"/>
<rect x="382" y="463" width="1" height="1" fill="#ff0000"/>
<rect x="383" y="464" width="1" height="1" fill="#ff0000"/>
<rect x="387" y="465" width="1" height="1" fill="#ff0000"/>
<rect x="388" y="466" width="1" height="1" fill="#ff0000"/>
<rect x="389" y="466" width="1" height="1" fill="#ff0000"/>
<rect x="393" y="468" width="1" height="1" fill="#ff0000"/>
<rect x="394" y="468" width="1" height="1" fill="#ff0000"/>
<rect x="395" y="469" width="1" height="1" fill="#ff0000"/>
<rect x="399" y="467" width="1" height="1" fill="#ff0000"/>
<rect x="400" y="467" width="1" height="1" fill="#ff0000"/>
<rect x="401" y="466" width="1" height="1" fill="#ff0000"/>
<rect x="404" y="462" width="1" height="1" fill="#ff0000"/>
<rect x="405" y="461" width="1" height="1" fill="#ff0000"/>
<rect x="406" y="460" width="1" height="1" fill="#ff0000"/>
<rect x="410" y="456" width="1" height="1" fill="#ff0000"/>
<rect x="411" y="455" width="1" height="1" fill="#ff0000"/>
<rect x="411" y="454" width="1" height="1" fill="#ff0000"/>
<rect x="415" y="450" width="1" height="1" fill="#ff0000"/>
<rect x="416" y="449" width="1" height="1" fill="#ff0000"/>
<rect x="416" y="448" width="1" height="1" fill="#ff0000"/>
<rect x="419" y="444" width="1" height="1" fill="#ff0000"/>
<rect x="420" y="443" width="1" height="1" fill="#ff0000"/>
<rect x="420" y="442" width="1" height="1" fill="#ff0000"/>
<rect x="423" y="438" width="1" height="1" fill="#ff0000"/>
<rect x="424" y="437" width="1" height="1" fill="#ff0000"/>
<rect x="425" y="436" width="1" height="1" fill="#ff0000"/>
<rect x="428" y="432" width="1" height="1" fill="#ff0000"/>
<rect x="429" y="431" width="1" height="1" fill="#ff0000"/>
<rect x="430" y="430" width="1" height="1" fill="#ff0000"/>
<rect x="434" y="427" width="1" height="1" fill="#ff0000"/>
<rect x="435" y="426" width="1" height="1" fill="#ff0000"/>
<rect x="436" y="425" width="1" height="1" fill="#ff0000"/>
<rect x="440" y="424" width="1" height="1" fill="#ff0000"/>
<rect x="441" y="423" width="1" height="1" fill="#ff0000"/>
<rect x="442" y="423" width="1" height="1" fill="#ff0000"/>
<rect x="446" y="423" width="1" height="1" fill="#ff0000"/>
<rect x="447" y="423" width="1" height="1" fill="#ff0000"/>
<rect x="448" y="423" width="1" height="1" fill="#ff0000"/>
<rect x="452" y="422" width="1" height="1" fill="#ff0000"/>
<rect x="453" y="422" width="1" height="1" fill="#ff0000"/>
<rect x="454" y="422" width="1" height="1" fill="#ff0000"/>
<rect x="458" y="422" width="1" height="1" fill="#ff0000"/>
<rect x="459" y="422" width="1" height="1" fill="#ff0000"/>
<rect x="460" y="423" width="1" height="1" fill="#ff0000"/>
<rect x="464" y="423" width="1" height="1" fill="#ff0000"/>
<rect x="465" y="424" width="1" height="1" fill="#ff0000"/>
<rect x="466" y="424" width="1" height="1" fill="#ff0000"/>
<rect x="470" y="425" width="1" height="1" fill="#ff0000"/>
<rect x="471" y="425" width="1" height="1" fill="#ff0000"/>
<rect x="472" y="425" width="1" height="1" fill="#ff0000"/>
<rect x="476" y="427" width="1" height="1" fill="#ff0000"/>
<rect x="477" y="428" width="1" height="1" fill="#ff0000"/>
<rect x="478" y="428" width="1" height="1" fill="#ff0000"/>
<rect x="482" y="430" width="1" height="1" fill="#ff0000"/>
<rect x="483" y="431" width="1" height="1" fill="#ff0000"/>
<rect x="484" y="431" width="1" height="1" fill="#ff0000"/>
<rect x="488" y="433" width="1" height="1" fill="#ff0000"/>
<rect x="489" y="434" width="1" height="1" fill="#ff0000"/>
<rect x="490" y="434" width="1" height="1" fill="#ff0000"/>
<rect x="494" y="436" width="1" height="1" fill="#ff0000"/>
<rect x="495" y="437" width="1" height="1" fill="#ff0000"/>
<rect x="496" y="437" width="1" height="1" fill="#ff0000"/>
<rect x="500" y="438" width="1" height="1" fill="#ff0000"/>
<rect x="501" y="438" width="1" height="1" fill="#ff0000"/>
<rect x="502" y="438" width="1" height="1" fill="#ff0000"/>
<rect x="506" y="439" width="1" height="1" fill="#ff0000"/>
<rect x="507" y="439" width="1" height="1" fill="#ff0000"/>
<rect x="508" y="439" width="1" height="1" fill="#ff0000"/>
<rect x="512" y="440" width="1" height="1" fill="#ff0000"/>
<rect x="513" y="440" width="1" height="1" fill="#ff0000"/>
<rect x="514" y="441" width="1" height="1" fill="#ff0000"/>
<rect x="518" y="441" width="1" height="1" fill="#ff0000"/>
<rect x="519" y="442" width="1" height="1" fill="#ff0000"/>
<rect x="520" y="442" width="1" height="1" fill="#ff0000"/>
<rect x="524" y="442" width="1" height="1" fill="#ff0000"/>
<rect x="525" y="442" width="1" height="1" fill="#ff0000"/>
<rect x="526" y="442" width="1" height="1" fill="#ff0000"/>
<rect x="530" y="441" width="1" height="1" fill="#ff0000"/>
<rect x="531" y="441" width="1" height="1" fill="#ff0000"/>
<rect x="532" y="441" width="1" height="1" fill="#ff0000"/>
<rect x="536" y="440" width="1" height="1" fill="#ff0000"/>
<rect x="537" y="440" width="1" height="1" fill="#ff0000"/>
<rect x="538" y="439" width="1" height="1" fill="#ff0000"/>
<rect x="542" y="437" width="1" height="1" fill="#ff0000"/>
<rect x="543" y="437" width="1" height="1" fill="#ff0000"/>
<rect x="544" y="436" width="1" height="1" fill="#ff0000"/>
<rect x="548" y="434" width="1" height="1" fill="#ff0000"/>
<rect x="549" y="434" width="1" height="1" fill="#ff0000"/>
<rect x="550" y="433" width="1" height="1" fill="#ff0000"/>
<rect x="554" y="432" width="1" height="1" fill="#ff0000"/>
<rect x="555" y="431" width="1" height="1" fill="#ff0000"/>
<rect x="556" y="431" width="1" height="1" fill="#ff0000"/>
<rect x="560" y="429" width="1" height="1" fill="#ff0000"/>
<rect x="561" y="429" width="1" height="1" fill="#ff0000"/>
<rect x="562" y="429" width="1" height="1" fill="#ff0000"/>
<rect x="566" y="428" width="1" height="1" fill="#ff0000"/>
<rect x="567" y="427" width="1" height="1" fill="#ff0000"/>
<rect x="568" y="427" width="1" height="1" fill="#ff0000"/>
<rect x="572" y="427" width="1" height="1" fill="#ff0000"/>
<rect x="573" y="427" width="1" height="1" fill="#ff0000"/>
<rect x="574" y="427" width="1" height="1" fill="#ff0000"/>
<rect x="578" y="427" width="1" height="1" fill="#ff0000"/>
<rect x="579" y="427" width="1" height="1" fill="#ff0000"/>
<rect x="580" y="427" width="1" height="1" fill="#ff0000"/>
<rect x="584" y="427" width="1" height="1" fill="#ff0000"/>
<rect x="585" y="427" width="1" height="1" fill="#ff0000"/>
<rect x="586" y="427" width="1" height="1" fill="#ff0000"/>
<rect x="590" y="427" width="1" height="1" fill="#ff0000"/>
<rect x="591" y="427" width="1" height="1" fill="#ff0000"/>
<rect x="592" y="427" width="1" height="1" fill="#ff0000"/>
<rect x="596" y="428" width="1" height="1" fill="#ff0000"/>
<rect x="597" y="428" width="1" height="1" fill="#ff0000"/>
<rect x="598" y="428" width="1" height="1" fill="#ff0000"/>
<rect x="602" y="428" width="1" height="1" fill="#ff0000"/>
<rect x="603" y="428" width="1" height="1" fill="#ff0000"/>
<rect x="604" y="428" width="1" height="1" fill="#ff0000"/>
<rect x="608" y="429" width="1" height="1" fill="#ff0000"/>
<rect x="609" y="429" width="1" height="1" fill="#ff0000"/>
<rect x="610" y="429" width="1" height="1" fill="#ff0000"/>
<rect x="614" y="429" width="1" height="1" fill="#ff0000"/>
<rect x="615" y="430" width="1" height="1" fill="#ff0000"/>
<rect x="616" y="430" width="1" height="1" fill="#ff0000"/>
<rect x="620" y="430" width="1" height="1" fill="#ff0000"/>
<rect x="621" y="430" width="1" height="1" fill="#ff0000"/>
<rect x="622" y="430" width="1" height="1" fill="#ff0000"/>
<rect x="626" y="430" width="1" height="1" fill="#ff0000"/>
<rect x="627" y="430" width="1" height="1" fill="#ff0000"/>
<rect x="628" y="430" width="1" height="1" fill="#ff0000"/>
<rect x="632" y="429" width="1" height="1" fill="#ff0000"/>
<rect x="633" y="429" width="1" height="1" fill="#ff0000"/>
<rect x="634" y="429" width="1" height="1" fill="#ff0000"/>
<rect x="638" y="428" width="1" height="1" fill="#ff0000"/>
<rect x="639" y="428" width="1" height="1" fill="#ff0000"/>
<rect x="640" y="428" width="1" height="1" fill="#ff0000"/>
<rect x="644" y="428" width="1" height="1" fill="#ff0000"/>
<rect x="645" y="427" width="1" height="1" fill="#ff0000"/>
<rect x="646" y="427" width="1" height="1" fill="#ff0000"/>
<rect x="650" y="427" width="1" height="1" fill="#ff0000"/>
<rect x="651" y="427" width="1" height="1" fill="#ff0000"/>
<rect x="652" y="427" width="1" height="1" fill="#ff0000"/>
<rect x="656" y="427" width="1" height="1" fill="#ff0000"/>
<rect x="657" y="427" width="1" height="1" fill="#ff0000"/>
<rect x="658" y="427" width="1" height="1" fill="#ff0000"/>
<rect x="662" y="427" width="1" height="1" fill="#ff0000"/>
<rect x="663" y="426" width="1" height="1" fill="#ff0000"/>
<rect x="664" y="426" width="1" height="1" fill="#ff0000"/>
<rect x="668" y="426" width="1" height="1" fill="#ff0000"/>
<rect x="669" y="426" width="1" height="1" fill="#ff0000"/>
<rect x="670" y="426" width="1" height="1" fill="#ff0000"/>
<rect x="674" y="426" width="1" height="1" fill="#ff0000"/>
<rect x="675" y="426" width="1" height="1" fill="#ff0000"/>
<rect x="2" y="2" width="1" height="410" fill="#000"/>
<rect x="2" y="2" width="699" height="1" fill="#000"/>
<rect x="700" y="2" width="1" height="410" fill="#000"/>
<rect x="700" y="413" width="1" height="66" fill="#000"/>
<rect x="2" y="411" width="699" height="1" fill="#000"/>
<rect x="2" y="413" width="699" height="1" fill="#000"/>
<rect x="2" y="413" width="1" height="66" fill="#000"/>
<rect x="2" y="478" width="699" height="1" fill="#000"/>
<rect x="701" y="34" width="2" height="1" fill="#000"/>
<text x="706.5" y="38" lengthAdjust="spacingAndGlyphs" textLength="27.5" style="letter-spacing:0">1.3555</text>
<rect x="701" y="71" width="2" height="1" fill="#000"/>
<text x="706.5" y="75" lengthAdjust="spacingAndGlyphs" textLength="27.5" style="letter-spacing:0">1.3525</text>
<rect x="701" y="108" width="2" height="1" fill="#000"/>
<text x="706.5" y="112" lengthAdjust="spacingAndGlyphs" textLength="27.5" style="letter-spacing:0">1.3495</text>
<rect x="701" y="145" width="2" height="1" fill="#000"/>
<text x="706.5" y="149" lengthAdjust="spacingAndGlyphs" textLength="27.5" style="letter-spacing:0">1.3465</text>
<rect x="701" y="182" width="2" height="1" fill="#000"/>
<text x="706.5" y="186" lengthAdjust="spacingAndGlyphs" textLength="27.5" style="letter-spacing:0">1.3435</text>
<rect x="701" y="219" width="2" height="1" fill="#000"/>
<text x="706.5" y="223" lengthAdjust="spacingAndGlyphs" textLength="27.5" style="letter-spacing:0">1.3405</text>
<rect x="701" y="256" width="2" height="1" fill="#000"/>
<text x="706.5" y="260" lengthAdjust="spacingAndGlyphs" textLength="27.5" style="letter-spacing:0">1.3375</text>
<rect x="701" y="293" width="2" height="1" fill="#000"/>
<text x="706.5" y="297" lengthAdjust="spacingAndGlyphs" textLength="27.5" style="letter-spacing:0">1.3345</text>
<rect x="701" y="330" width="2" height="1" fill="#000"/>
<text x="706.5" y="334" lengthAdjust="spacingAndGlyphs" textLength="27.5" style="letter-spacing:0">1.3315</text>
<rect x="701" y="367" width="2" height="1" fill="#000"/>
<text x="706.5" y="371" lengthAdjust="spacingAndGlyphs" textLength="27.5" style="letter-spacing:0">1.3285</text>
<rect x="701" y="404" width="2" height="1" fill="#000"/>
<text x="706.5" y="408" lengthAdjust="spacingAndGlyphs" textLength="27.5" style="letter-spacing:0">1.3255</text>
<rect x="701" y="415" width="1" height="1" fill="#000"/>
<rect x="701" y="447" width="1" height="1" fill="#000"/>
<rect x="701" y="478" width="1" height="1" fill="#000"/>
<text x="704.3" y="424" lengthAdjust="spacingAndGlyphs" textLength="32.5" style="letter-spacing:0">0.00273</text>
<text x="704.3" y="451" lengthAdjust="spacingAndGlyphs" textLength="17.5" style="letter-spacing:0">0.00</text>
<text x="704.5" y="476" lengthAdjust="spacingAndGlyphs" textLength="36" style="letter-spacing:0">-0.00263</text>
<rect x="702" y="29" width="36" height="11" fill="#000"/>
<text x="706.5" y="38" lengthAdjust="spacingAndGlyphs" textLength="27.5" style="fill:#fff;letter-spacing:0">1.3555</text>
<rect x="702" y="67" width="36" height="11" fill="#ff0000"/>
<text x="706.5" y="76" lengthAdjust="spacingAndGlyphs" textLength="27.5" style="fill:#fff;letter-spacing:0">1.3523</text>
<rect x="702" y="126" width="36" height="11" fill="#ff0000"/>
<text x="706.5" y="135" lengthAdjust="spacingAndGlyphs" textLength="27.5" style="fill:#fff;letter-spacing:0">1.3475</text>
<rect x="702" y="189" width="36" height="11" fill="#ff0000"/>
<text x="706.5" y="198" lengthAdjust="spacingAndGlyphs" textLength="27.5" style="fill:#fff;letter-spacing:0">1.3425</text>
<rect x="702" y="211" width="36" height="11" fill="#ff0000"/>
<text x="706.5" y="220" lengthAdjust="spacingAndGlyphs" textLength="27.5" style="fill:#fff;letter-spacing:0">1.3407</text>
<rect x="3" y="479" width="1" height="4" fill="#000"/>
<text x="2.3" y="492" lengthAdjust="spacingAndGlyphs" textLength="48.5" style="letter-spacing:0">3 Nov 2016</text>
<rect x="67" y="479" width="1" height="4" fill="#000"/>
<text x="66.3" y="492" lengthAdjust="spacingAndGlyphs" textLength="52" style="letter-spacing:0">3 Nov 17:00</text>
<rect x="131" y="479" width="1" height="4" fill="#000"/>
<text x="130.3" y="492" lengthAdjust="spacingAndGlyphs" textLength="52" style="letter-spacing:0">4 Nov 09:00</text>
<rect x="195" y="479" width="1" height="4" fill="#000"/>
<text x="194.3" y="492" lengthAdjust="spacingAndGlyphs" textLength="52" style="letter-spacing:0">7 Nov 02:00</text>
<rect x="259" y="479" width="1" height="4" fill="#000"/>
<text x="258.3" y="492" lengthAdjust="spacingAndGlyphs" textLength="52" style="letter-spacing:0">7 Nov 18:00</text>
<rect x="323" y="479" width="1" height="4" fill="#000"/>
<text x="322.3" y="492" lengthAdjust="spacingAndGlyphs" textLength="52" style="letter-spacing:0">8 Nov 10:00</text>
<rect x="387" y="479" width="1" height="4" fill="#000"/>
<text x="386.3" y="492" lengthAdjust="spacingAndGlyphs" textLength="52" style="letter-spacing:0">9 Nov 02:00</text>
<rect x="451" y="479" width="1" height="4" fill="#000"/>
<text x="450.3" y="492" lengthAdjust="spacingAndGlyphs" textLength="52" style="letter-spacing:0">9 Nov 18:00</text>
<rect x="515" y="479" width="1" height="4" fill="#000"/>
<text x="514.3" y="492" lengthAdjust="spacingAndGlyphs" textLength="56.5" style="letter-spacing:0">10 Nov 10:00</text>
<rect x="579" y="479" width="1" height="4" fill="#000"/>
<text x="578.3" y="492" lengthAdjust="spacingAndGlyphs" textLength="56.5" style="letter-spacing:0">11 Nov 02:00</text>
<rect x="643" y="479" width="1" height="4" fill="#000"/>
<text x="642.3" y="492" lengthAdjust="spacingAndGlyphs" textLength="56.5" style="letter-spacing:0">11 Nov 18:00</text>
<path d="M6,9 L13,9 L9.5,13 Z" fill="#000" shape-rendering="auto"/>
<text x="18.5" y="14" lengthAdjust="spacingAndGlyphs" textLength="55.5" style="letter-spacing:0">USDCAD,H1</text>
<text x="80" y="14" lengthAdjust="spacingAndGlyphs" textLength="121" style="letter-spacing:0">1.3546 1.3562 1.3546 1.3555</text>
<text x="7" y="426" lengthAdjust="spacingAndGlyphs" textLength="65.5" style="letter-spacing:0">MACD(12,26,9)</text>
<text x="75.5" y="426" lengthAdjust="spacingAndGlyphs" textLength="70" style="letter-spacing:0">0.00195 0.00179</text>
</svg></body></html>
